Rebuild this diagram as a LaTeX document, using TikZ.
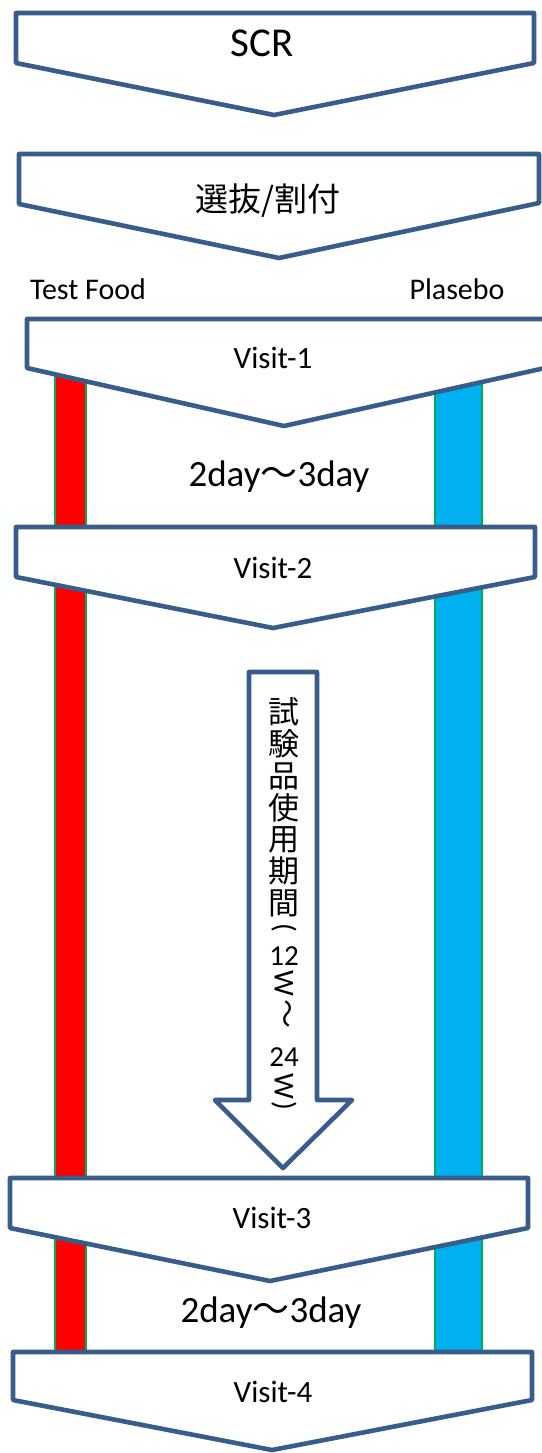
\documentclass[tikz,border=0pt]{standalone}
\usepackage{fontspec}
\setmainfont{Carlito}
\newfontfamily\cjk{Noto Sans CJK JP}
\usepackage{graphicx}
\definecolor{edgec}{RGB}{56,93,138}
\definecolor{redbar}{RGB}{255,0,0}
\definecolor{bluebar}{RGB}{0,176,240}
\definecolor{greenline}{RGB}{0,176,80}
\begin{document}
\begin{tikzpicture}[x=1pt,y=-1pt,
  chev/.style={draw=edgec,line width=4.6pt,fill=white,line join=round},
  lbl/.style={inner sep=0pt,text=black},
  barbox/.style={draw=greenline,line width=2pt},
  vis/.style={lbl,anchor=base,font=\fontsize{31}{31}\selectfont},
  dayl/.style={lbl,anchor=base,font=\fontsize{37}{37}\selectfont},
  vch/.style={lbl,font=\cjk\fontsize{31}{31}\selectfont},
  vlat/.style={lbl,font=\fontsize{29}{29}\selectfont}]
\useasboundingbox (0,0) rectangle (541,1453);
\fill[white] (0,0) rectangle (541,1453);
% bars
\draw[barbox,fill=redbar] (55,340) rectangle (86,1352);
\draw[barbox,fill=bluebar] (435,340) rectangle (482,1352);
% SCR
\draw[chev] (16,13) -- (534,13) -- (534,63) -- (274,115) -- (16,63) -- cycle;
\node[lbl,anchor=base,font=\fontsize{41}{41}\selectfont] (scr) at (262,57) {SCR};
% selection
\draw[chev] (19,154) -- (539,154) -- (539,203) -- (279,258) -- (19,204) -- cycle;
\node[lbl,anchor=base,font=\cjk\fontsize{33}{33}\selectfont] (sel) at (268,211) {選抜/割付};
\node[lbl,anchor=base,font=\fontsize{30}{30}\selectfont] (tf) at (88,299) {Test Food};
\node[lbl,anchor=base,font=\fontsize{30}{30}\selectfont] (pl) at (457,299) {Plasebo};
% Visit-1
\draw[chev] (27,319) -- (545,319) -- (545,368) -- (284,426) -- (27,368) -- cycle;
\node[vis] (v1) at (273,368) {Visit-1};
\node[dayl] (d1) at (279,486) {2day{\cjk ～}3day};
% Visit-2
\draw[chev] (16,527) -- (535,527) -- (535,577) -- (273,628) -- (16,577) -- cycle;
\node[vis] (v2) at (273,578) {Visit-2};
% period arrow
\draw[chev] (249,672) -- (317,672) -- (317,1100) -- (352,1100) -- (283,1168) -- (215,1100) -- (249,1100) -- cycle;
\foreach \n/\y/\t in {1/712/試,2/744/験,3/776/品,4/808/使,5/840/用,6/871/期,7/903/間}
  \node[vch] (vt\n) at (284,\y) {\t};
\node[vlat] (vt8) at (284,928) {\rotatebox{-90}{(}};
\node[vlat] (vt9) at (284,956) {12};
\node[vlat] (vt10) at (284,983) {\rotatebox{-90}{W}};
\node[vlat] (vt11) at (284,1014) {\rotatebox{-90}{\cjk ～}};
\node[vlat] (vt12) at (284,1057) {24};
\node[vlat] (vt13) at (284,1086) {\rotatebox{-90}{W}};
\node[vlat] (vt14) at (284,1106) {\rotatebox{-90}{)}};
% Visit-3
\draw[chev] (10,1178) -- (528,1178) -- (528,1228) -- (270,1281) -- (10,1228) -- cycle;
\node[vis] (v3) at (272,1228) {Visit-3};
\node[dayl] (d2) at (271,1322) {2day{\cjk ～}3day};
% Visit-4
\draw[chev] (13,1352) -- (532,1352) -- (532,1400) -- (272,1450) -- (13,1400) -- cycle;
\node[vis] (v4) at (273,1402) {Visit-4};
\end{tikzpicture}
\end{document}
